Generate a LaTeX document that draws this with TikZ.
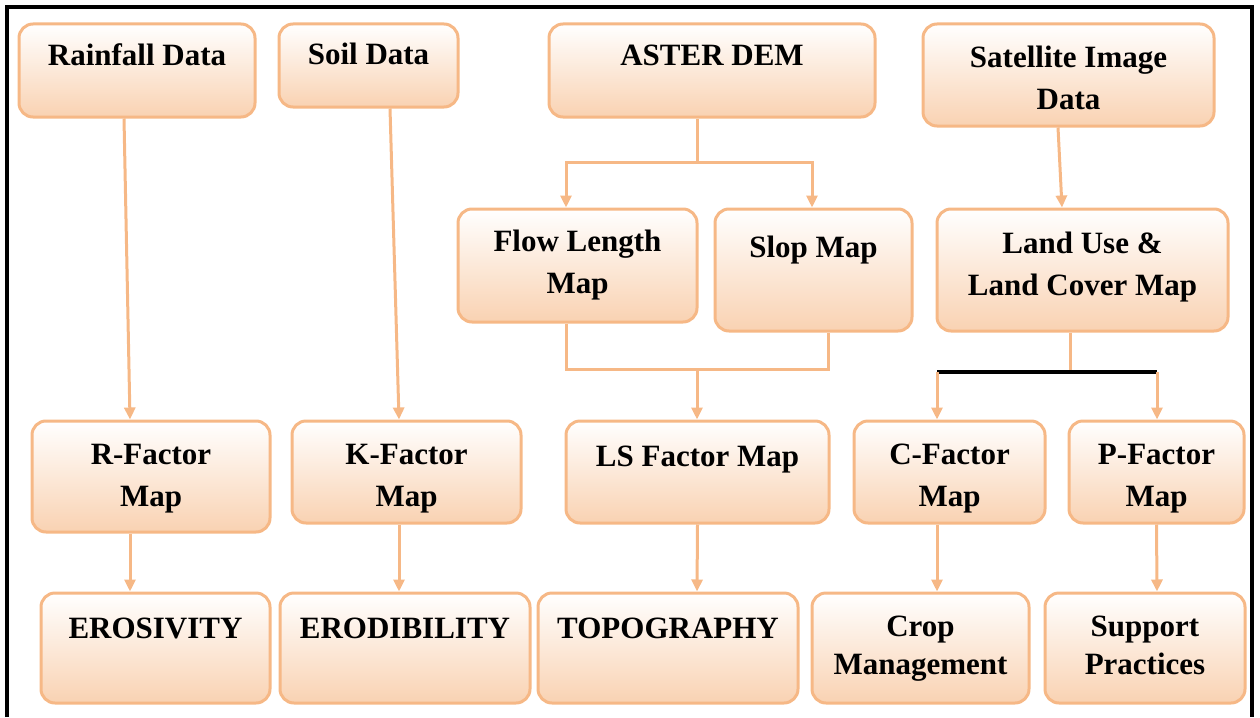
\documentclass[tikz,border=0pt]{standalone}
\usepackage{fontspec}
\setmainfont{Liberation Serif}
\usetikzlibrary{arrows.meta}
\definecolor{boxline}{RGB}{246,184,134}
\definecolor{boxfill}{RGB}{249,210,178}
\begin{document}
\begin{tikzpicture}[x=1pt,y=-1pt]
		\tikzstyle{blk}=[draw=boxline,line width=3pt,rounded corners=14pt,top color=white,bottom color=boxfill,align=center,inner sep=0pt,font=\fontsize{31}{42}\selectfont\bfseries]
		\tikzstyle{link}=[draw=boxline,line width=3pt]
		\tikzstyle{arr}=[link,-{Triangle[length=12pt,width=11pt]}]
		\useasboundingbox (0,0) rectangle (1260,717);
		\draw[line width=4pt] (7,717) -- (7,7) -- (1252,7) -- (1252,717);
		\node[blk,minimum width=236pt,text height=42pt,text depth=51pt](rain)at(137,70.5){Rainfall Data};
		\node[blk,minimum width=179pt,text height=41pt,text depth=42pt](soil)at(368.5,65.5){Soil Data};
		\node[blk,minimum width=326pt,text height=42pt,text depth=51pt](dem)at(712,70.5){ASTER DEM};
		\node[blk,minimum width=291pt,text height=85pt,text depth=17pt](sat)at(1068.5,75){Satellite Image\\Data};
		\node[blk,minimum width=239pt,text height=84pt,text depth=29pt](flow)at(577.5,265.5){Flow Length\\Map};
		\node[blk,minimum width=197pt,text height=48pt,text depth=74pt](slop)at(813.5,270){Slop Map};
		\node[blk,minimum width=291pt,text height=86pt,text depth=36pt](lulc)at(1082.5,270){Land Use \&\\Land Cover Map};
		\node[blk,minimum width=238pt,text height=85pt,text depth=26pt](rfac)at(151,476.5){R-Factor\\Map};
		\node[blk,minimum width=229pt,text height=85pt,text depth=17pt](kfac)at(406.5,472){K-Factor\\Map};
		\node[blk,minimum width=263pt,text height=45pt,text depth=57pt](lsfac)at(697.5,472){LS Factor Map};
		\node[blk,minimum width=191pt,text height=85pt,text depth=17pt](cfac)at(949.5,472){C-Factor\\Map};
		\node[blk,minimum width=175pt,text height=85pt,text depth=17pt](pfac)at(1156.5,472){P-Factor\\Map};
		\node[blk,minimum width=229pt,text height=45pt,text depth=65pt](eros)at(155.5,648){EROSIVITY};
		\node[blk,minimum width=250pt,text height=45pt,text depth=65pt](erod)at(405,648){ERODIBILITY};
		\node[blk,minimum width=260pt,text height=45pt,text depth=65pt](topo)at(668,648){TOPOGRAPHY};
		\node[blk,minimum width=217pt,text height=81pt,text depth=29pt,font=\fontsize{31}{38}\selectfont\bfseries](crop)at(920.5,648){Crop\\Management};
		\node[blk,minimum width=200pt,text height=81pt,text depth=29pt,font=\fontsize{31}{38}\selectfont\bfseries](supp)at(1145,648){Support\\Practices};
		% junctions
		\coordinate (dj) at (697,162);
		\coordinate (fj) at (697,369);
		\coordinate (lj) at (1070,372);
		\coordinate (cb) at (937,372);
		\coordinate (pb) at (1157,372);
		\draw[link] ([xshift=-15pt]dem.south) -- (dj);
		\draw[arr] (dj) -| ([xshift=-11.5pt]flow.north);
		\draw[arr] (dj) -| ([xshift=-1.5pt]slop.north);
		\draw[link] ([xshift=-11.5pt]flow.south) |- (fj) -| ([xshift=14.5pt]slop.south);
		\draw[arr] (fj) -- (fj |- lsfac.north);
		\draw[link] ([xshift=-12.5pt]lulc.south) -- (lj);
		\draw[line width=4pt] (cb) -- (pb);
		\path (cb) edge[arr] (cb |- cfac.north)
		(pb) edge[arr] (pb |- pfac.north)
		([xshift=-13pt]rain.south) edge[arr] ([xshift=-21pt]rfac.north)
		([xshift=21.5pt]soil.south) edge[arr] ([xshift=-7.5pt]kfac.north)
		([xshift=-10.5pt]sat.south) edge[arr] ([xshift=-20.5pt]lulc.north)
		([xshift=-21pt]rfac.south) edge[arr] ([xshift=-25.5pt]eros.north)
		([xshift=-7.5pt]kfac.south) edge[arr] ([xshift=-6pt]erod.north)
		(lsfac.south) edge[arr] ([xshift=29pt]topo.north)
		([xshift=-12.5pt]cfac.south) edge[arr] ([xshift=16.5pt]crop.north)
		(pfac.south) edge[arr] ([xshift=12pt]supp.north);
\end{tikzpicture}
\end{document}
